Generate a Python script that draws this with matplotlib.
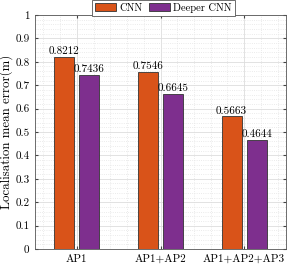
import matplotlib
matplotlib.use('Agg')
from matplotlib import pyplot as plt
from matplotlib.ticker import MultipleLocator
import numpy as np

groups = ['AP1', 'AP1+AP2', 'AP1+AP2+AP3']
cnn = [0.8212, 0.7546, 0.5663]
deeper = [0.7436, 0.6645, 0.4644]
series = ['CNN', 'Deeper CNN']
colors = ['#D95319', '#7E2F8E']
yticks = [0, 0.1, 0.2, 0.3, 0.4, 0.5, 0.6, 0.7, 0.8, 0.9, 1]
ytick_labels = ['0', '0.1', '0.2', '0.3', '0.4', '0.5', '0.6', '0.7', '0.8', '0.9', '1']

plt.rcParams['font.family'] = 'cmr10'
plt.rcParams['mathtext.fontset'] = 'cm'
plt.rcParams['axes.formatter.use_mathtext'] = True

fig = plt.figure(figsize=(2.91, 2.65), dpi=100)
ax = fig.add_axes([35/291, 16/265, 251/291, 234/265])

x = np.arange(1, len(groups) + 1)
w = 0.24
off = 0.15
b1 = ax.bar(x - off, cnn, w, color=colors[0], edgecolor='#333333', linewidth=0.6, label=series[0], zorder=3)
b2 = ax.bar(x + off, deeper, w, color=colors[1], edgecolor='#333333', linewidth=0.6, label=series[1], zorder=3)

for xi, v in zip(x - off, cnn):
    ax.text(xi, v + 0.004, '%.4f' % v, ha='center', va='bottom', fontsize=8, zorder=4)
for xi, v in zip(x + off, deeper):
    ax.text(xi, v + 0.004, '%.4f' % v, ha='center', va='bottom', fontsize=8, zorder=4)

ax.set_xlim(0.5, 3.5)
ax.set_ylim(0, 1)
ax.set_xticks(x)
ax.set_xticklabels(groups, fontsize=8)
ax.set_yticks(yticks)
ax.set_yticklabels(ytick_labels, fontsize=8)
ax.yaxis.set_minor_locator(MultipleLocator(0.02))
ax.xaxis.set_minor_locator(MultipleLocator(0.2))
ax.tick_params(which='both', direction='in', top=True, right=True, length=2.5, color='#444444', pad=4)
ax.tick_params(which='minor', length=0)
ax.grid(which='major', color='#dddddd', linewidth=0.6, zorder=0)
ax.grid(which='minor', color='#e4e4e4', linestyle=':', linewidth=0.6, zorder=0)
ax.set_axisbelow(True)
for s in ax.spines.values():
    s.set_color('#555555')
    s.set_linewidth(0.6)
ax.set_ylabel('Localisation mean error(m)', fontsize=9.3)
ax.yaxis.set_label_coords(-0.088, 0.5)

leg = fig.legend(handles=[b1, b2], loc='upper left', bbox_to_anchor=(92/291, 1.0), ncol=2,
                 fontsize=7.5, handlelength=2.0, handleheight=0.75, handletextpad=0.35,
                 columnspacing=0.6, borderpad=0.28, borderaxespad=0, fancybox=False,
                 edgecolor='#555555', framealpha=1)
leg.get_frame().set_linewidth(0.6)

fig.savefig('out.png', dpi=100)
